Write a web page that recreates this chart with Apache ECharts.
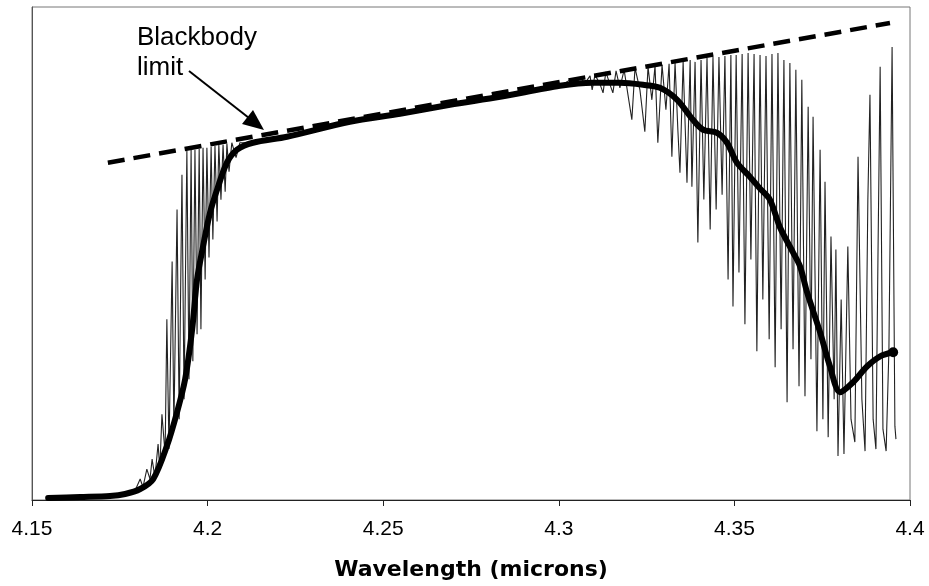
<!DOCTYPE html>
<html>
<head>
<meta charset="utf-8">
<script src="https://cdn.jsdelivr.net/npm/echarts@6/dist/echarts.min.js"></script>
<style>
  html, body { margin: 0; padding: 0; background: #fff; }
  #chart { width: 929px; height: 586px; }
</style>
</head>
<body>
<div id="chart"></div>
<script>
// x tick labels (microns)
var xTicks = [4.15, 4.2, 4.25, 4.3, 4.35, 4.4];

// blackbody limit (dashed straight line), arbitrary intensity units
var bbX = [4.1716, 4.3943];
var bbY = [338, 478];

// smoothed spectrum (thick line)
var smoothX = [4.1546, 4.1637, 4.1722, 4.1765, 4.1808, 4.1845, 4.1884, 4.1913, 4.1936, 4.1956,
  4.1970, 4.1987, 4.2007, 4.2027, 4.2055, 4.2084, 4.2129, 4.2226, 4.2405, 4.2548,
  4.2690, 4.2833, 4.3003, 4.3097, 4.3174, 4.3240, 4.3288, 4.3337, 4.3382, 4.3411,
  4.3450, 4.3479, 4.3507, 4.3544, 4.3573, 4.3601, 4.3630, 4.3667, 4.3687, 4.3707,
  4.3744, 4.3772, 4.3801, 4.3838, 4.3878, 4.3915, 4.3952];
var smoothY = [2, 3, 4, 6, 11, 21, 54, 88, 121, 171,
  221, 254, 288, 311, 338, 351, 358, 364, 379, 387,
  396, 404, 415, 418, 418, 416, 413, 401, 381, 371,
  368, 358, 338, 324, 312, 301, 273, 248, 234, 208,
  168, 134, 108, 118, 134, 144, 148];

// high resolution spectrum (thin line)
var rawX = [4.1546, 4.1765, 4.1793, 4.1808, 4.1816, 4.1827, 4.1836, 4.1842, 4.1850, 4.1859,
  4.1864, 4.1870, 4.1879, 4.1884, 4.1890, 4.1899, 4.1904, 4.1913, 4.1919, 4.1927,
  4.1933, 4.1941, 4.1947, 4.1953, 4.1958, 4.1964, 4.1970, 4.1976, 4.1981, 4.1987,
  4.1993, 4.1998, 4.2004, 4.2010, 4.2015, 4.2021, 4.2027, 4.2032, 4.2038, 4.2044,
  4.2050, 4.2055, 4.2061, 4.2069, 4.2081, 4.2092,
  4.2129, 4.2226, 4.2405, 4.2548, 4.2690, 4.2833, 4.3003,
  4.3018, 4.3032, 4.3046, 4.3060, 4.3075, 4.3089, 4.3095, 4.3103, 4.3117, 4.3126,
  4.3134, 4.3146, 4.3154, 4.3163, 4.3174, 4.3186, 4.3197, 4.3208, 4.3217, 4.3231,
  4.3245, 4.3254, 4.3265, 4.3274, 4.3282, 4.3294, 4.3305, 4.3314, 4.3322, 4.3331,
  4.3339, 4.3345, 4.3354, 4.3365,
  4.3374, 4.3379, 4.3388, 4.3396, 4.3405, 4.3413, 4.3422, 4.3431, 4.3439, 4.3448,
  4.3456, 4.3465, 4.3473, 4.3482, 4.3490, 4.3496, 4.3505, 4.3513, 4.3522, 4.3530,
  4.3539, 4.3547, 4.3556, 4.3564, 4.3573, 4.3581, 4.3590, 4.3599, 4.3607, 4.3616,
  4.3624, 4.3633, 4.3641, 4.3650, 4.3658, 4.3667, 4.3675, 4.3684, 4.3692, 4.3701,
  4.3710, 4.3718, 4.3724, 4.3735, 4.3744, 4.3752, 4.3758, 4.3767, 4.3775, 4.3784,
  4.3789, 4.3795, 4.3804, 4.3812, 4.3823, 4.3832, 4.3843, 4.3852, 4.3863, 4.3872,
  4.3880, 4.3886, 4.3895, 4.3903, 4.3909, 4.3915, 4.3923, 4.3932, 4.3940, 4.3949,
  4.3957, 4.3960];
var rawY = [2, 5, 9, 21, 13, 31, 21, 41, 23, 56,
  31, 86, 46, 181, 51, 239, 71, 291, 81, 326,
  101, 350, 121, 351, 139, 351, 166, 352, 171, 353,
  221, 353, 243, 354, 261, 355, 279, 356, 301, 356,
  309, 357, 329, 358, 343, 358,
  358, 364, 379, 387, 396, 404, 415,
  418, 421, 416, 423, 418, 425, 411, 426, 417, 408,
  429, 416, 408, 430, 413, 431, 406, 381, 433, 411,
  369, 434, 401, 435, 358, 436, 391, 437, 344, 438,
  371, 328, 439, 318,
  441, 314, 439, 258, 441, 301, 443, 271, 444, 291,
  444, 306, 445, 221, 446, 194, 446, 228, 447, 176,
  448, 241, 447, 149, 446, 201, 445, 161, 447, 133,
  448, 171, 441, 98, 438, 151, 431, 114, 421, 104,
  394, 141, 384, 69, 351, 81, 319, 63, 264, 101,
  251, 44, 201, 46, 254, 81, 58, 344, 101, 49,
  301, 406, 81, 51, 251, 434, 71, 49, 151, 454,
  74, 61];

function pairs(xs, ys) {
  return xs.map(function (x, i) { return [x, ys[i]]; });
}

var smoothData = pairs(smoothX, smoothY);
var last = smoothData.pop();
smoothData.push({ value: last, symbol: "circle", symbolSize: 10 });

var font = "'Liberation Sans', Arial, sans-serif";
var mychart = echarts.init(document.getElementById("chart"));
var option = {
  animation: false,
  backgroundColor: "#fff",
  grid: {
    show: true,
    left: 32,
    right: 19,
    top: 7,
    bottom: 85,
    borderColor: "#777",
    borderWidth: 1,
  },
  xAxis: {
    type: "value",
    min: xTicks[0],
    max: xTicks[xTicks.length - 1],
    interval: 0.05,
    name: "Wavelength (microns)",
    nameLocation: "middle",
    nameGap: 59,
    nameTextStyle: { color: "#000", fontSize: 22, fontWeight: "bold", fontFamily: "'DejaVu Sans', sans-serif" },
    axisLine: { show: true, lineStyle: { color: "#222", width: 1 } },
    axisTick: { show: true, inside: false, length: 6, lineStyle: { color: "#222" } },
    axisLabel: { color: "#000", fontSize: 21, fontFamily: font, margin: 19 },
    splitLine: { show: false },
  },
  yAxis: {
    type: "value",
    min: 0,
    max: 494,
    axisLine: { show: true, lineStyle: { color: "#555" } },
    axisTick: { show: false },
    axisLabel: { show: false },
    splitLine: { show: false },
  },
  series: [
    {
      name: "raw",
      type: "line",
      data: pairs(rawX, rawY),
      showSymbol: false,
      lineStyle: { color: "#222", width: 1.1 },
      z: 2,
    },
    {
      name: "smoothed",
      type: "line",
      data: smoothData,
      symbol: "none",
      smooth: 0.3,
      itemStyle: { color: "#000" },
      lineStyle: { color: "#000", width: 6, cap: "round", join: "round" },
      z: 3,
    },
    {
      name: "blackbody",
      type: "line",
      data: pairs(bbX, bbY),
      showSymbol: false,
      lineStyle: { color: "#000", width: 4.5, type: [17, 9] },
      z: 4,
    },
  ],
  graphic: [
    {
      type: "text",
      left: 137,
      top: 25,
      style: { text: "Blackbody", fill: "#000", font: "26px " + font },
    },
    {
      type: "text",
      left: 137,
      top: 55,
      style: { text: "limit", fill: "#000", font: "26px " + font },
    },
    {
      type: "line",
      shape: { x1: 189, y1: 71, x2: 249, y2: 118 },
      style: { stroke: "#000", lineWidth: 2 },
    },
    {
      type: "polygon",
      shape: { points: [[264, 130], [242, 124], [253, 110]] },
      style: { fill: "#000" },
    },
  ],
};
mychart.setOption(option);
</script>
</body>
</html>
